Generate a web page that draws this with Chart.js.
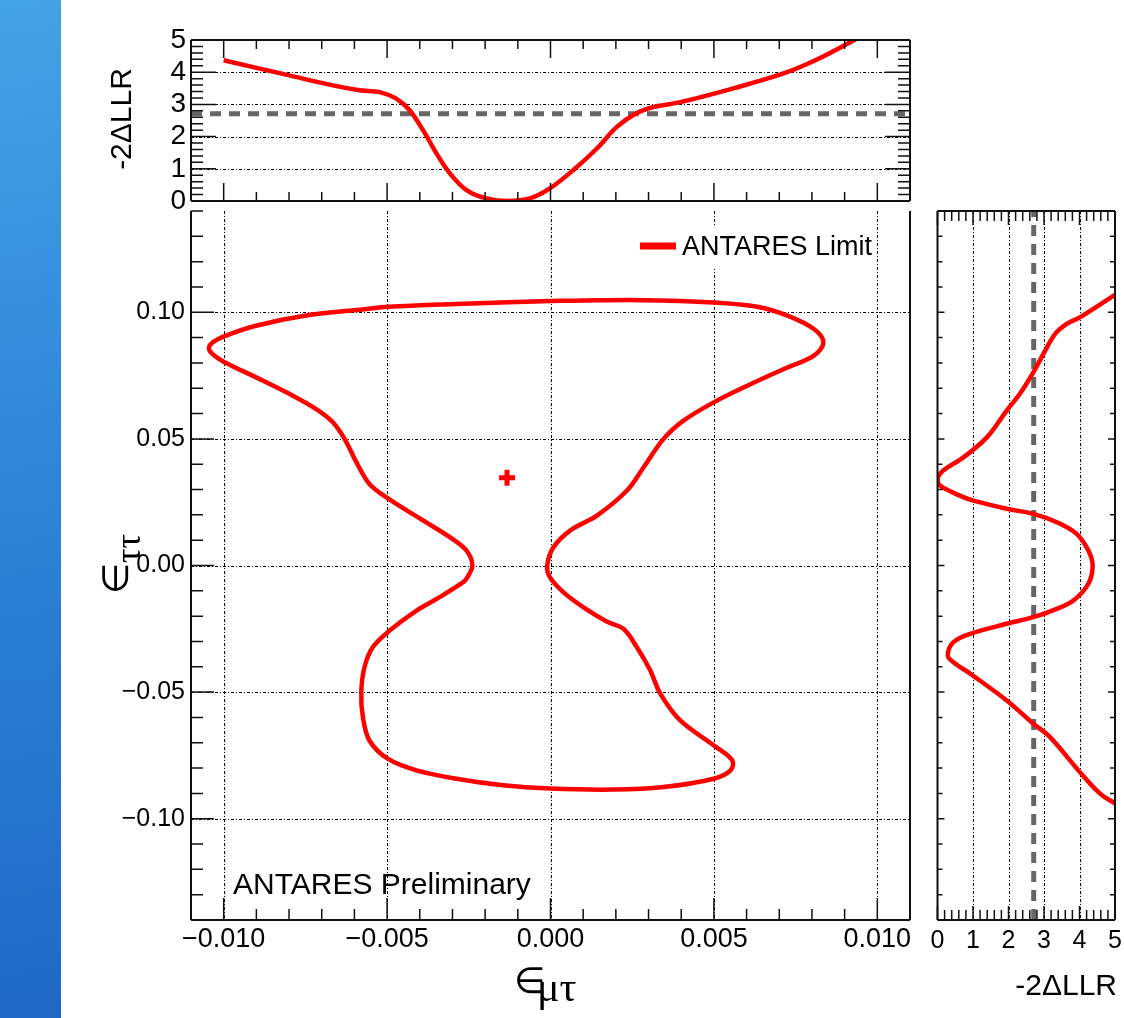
<!DOCTYPE html>
<html>
<head>
<meta charset="utf-8">
<script src="https://cdn.jsdelivr.net/npm/chart.js@4.4.1/dist/chart.umd.min.js"></script>
<style>
  body { margin: 0; background: #fff; }
  #wrap { position: relative; width: 1124px; height: 1018px; overflow: hidden; background: #fff; }
  #strip { position: absolute; left: 0; top: 0; width: 61px; height: 1018px;
    background: linear-gradient(170deg, #45a3e8 0%, #2f86d8 45%, #1f69c5 100%); }
  canvas { position: absolute; left: 0; top: 0; }
</style>
</head>
<body>
<div id="wrap">
  <div id="strip"></div>
  <canvas id="topChart" width="1124" height="1018"></canvas>
  <canvas id="mainChart" width="1124" height="1018"></canvas>
  <canvas id="sideChart" width="1150" height="1018"></canvas>
</div>
<script>
// axis ranges and labelled ticks
const xLimits = [-0.011, 0.011];
const yLimits = [-0.14, 0.14];
const llrLimits = [0, 5];
const xTickLabels = [-0.010, -0.005, 0.000, 0.005, 0.010];
const yTickLabels = [-0.10, -0.05, 0.00, 0.05, 0.10];
const llrTickLabels = [0, 1, 2, 3, 4, 5];
const llrThreshold = 2.71;
const bestFit = [-0.00133, 0.0347];

// profile along eps_mutau (top panel)
const muTauScan = [-0.0100, -0.00799, -0.00666, -0.00584, -0.00523, -0.00472, -0.00431, -0.00390,
  -0.00349, -0.00308, -0.00257, -0.00196, -0.00129, -0.00063, -0.00002, 0.00070, 0.00142,
  0.00203, 0.00264, 0.00315, 0.00397, 0.00560, 0.00713, 0.00817, 0.00934];
const muTauLLR = [4.37, 3.90, 3.59, 3.44, 3.38, 3.18, 2.82, 2.20, 1.48, 0.86, 0.34, 0.08, 0.00,
  0.08, 0.39, 0.96, 1.63, 2.30, 2.73, 2.92, 3.07, 3.50, 3.96, 4.40, 5.02];

// profile along eps_tautau (right panel)
const tauTauScan = [0.1069, 0.0980, 0.0954, 0.0914, 0.0835, 0.0763, 0.0678, 0.0612, 0.0506, 0.0427,
  0.0375, 0.0342, 0.0316, 0.0276, 0.0256, 0.0224, 0.0204, 0.0171, 0.0125, 0.0059, 0.0000,
  -0.0072, -0.0138, -0.0171, -0.0204, -0.0230, -0.0270, -0.0303, -0.0355, -0.0382, -0.0427,
  -0.0533, -0.0625, -0.0678, -0.0816, -0.0901, -0.0940];
const tauTauLLR = [5.0, 4.01, 3.64, 3.31, 2.98, 2.70, 2.32, 1.95, 1.39, 0.73, 0.16, 0.0, 0.07, 0.63,
  1.01, 1.95, 2.70, 3.36, 3.92, 4.25, 4.37, 4.25, 3.83, 3.36, 2.70, 1.95, 0.92, 0.45, 0.29, 0.45,
  0.92, 1.95, 2.70, 3.17, 4.01, 4.58, 5.0];

// 90% CL contour
const contourX = [0.00029, -0.00288, -0.00495, -0.00594, -0.00748, -0.00901, -0.00993, -0.01034,
  -0.01045, -0.01029, -0.00996, -0.00901, -0.00799, -0.00717, -0.00666, -0.00630, -0.00594,
  -0.00554, -0.00495, -0.00390, -0.00308, -0.00257, -0.00239, -0.00257, -0.00267, -0.00339,
  -0.00410, -0.00494, -0.00544, -0.00569, -0.00579, -0.00574, -0.00554, -0.00498, -0.00410,
  -0.00288, -0.00145, -0.00002, 0.00193, 0.00346, 0.00499, 0.00551, 0.00556, 0.00499, 0.00397,
  0.00336, 0.00305, 0.00264, 0.00223, 0.00172, 0.00101, 0.00039, -0.00002, -0.00010, 0.00009,
  0.00060, 0.00142, 0.00234, 0.00285, 0.00346, 0.00407, 0.00499, 0.00602, 0.00714, 0.00806,
  0.00835, 0.00806, 0.00725, 0.00633, 0.00499, 0.00275, 0.00070];
const contourY = [0.1046, 0.1033, 0.1022, 0.1009, 0.0987, 0.0947, 0.0908, 0.0881, 0.0855, 0.0829,
  0.0802, 0.0743, 0.0678, 0.0618, 0.0566, 0.0500, 0.0408, 0.0322, 0.0263, 0.0178, 0.0112, 0.0059,
  0.0, -0.0052, -0.0066, -0.0125, -0.0178, -0.0259, -0.0323, -0.0401, -0.0500, -0.0599, -0.0691,
  -0.0763, -0.0809, -0.0842, -0.0868, -0.0881, -0.0885, -0.0875, -0.0842, -0.0809, -0.0769,
  -0.0710, -0.0612, -0.0506, -0.0414, -0.0322, -0.0250, -0.0221, -0.0165, -0.0105, -0.0046, 0.0,
  0.0072, 0.0138, 0.0197, 0.0296, 0.0388, 0.0500, 0.0572, 0.0644, 0.0710, 0.0776, 0.0829, 0.0881,
  0.0934, 0.0987, 0.1022, 0.1039, 0.1048, 0.1046];

const RED = '#ff0000';
const GREY = '#666666';
const FONT = '"Liberation Sans", Arial, sans-serif';
Chart.defaults.font.family = FONT;
Chart.defaults.color = '#000';

function steps(a, b, s) {
  const out = [];
  const n = Math.round((b - a) / s);
  for (let i = 0; i <= n; i++) out.push(a + i * s);
  return out;
}

function zip(xs, ys) {
  return xs.map((x, i) => ({ x, y: ys[i] }));
}

function fmtSigned(v, digits) {
  const s = Math.abs(v).toFixed(digits);
  return v < -1e-9 ? '\u2212' + s : s;
}

// ROOT-like frame: dotted grid under the data, frame edges and inward ticks over it
function rootFrame(spec) {
  return {
    id: 'rootFrame',
    beforeDatasetsDraw(chart) {
      const { ctx, chartArea: a, scales } = chart;
      ctx.save();
      ctx.strokeStyle = '#000';
      ctx.lineWidth = 1;
      ctx.setLineDash([3, 2, 1, 2]);
      ctx.beginPath();
      (spec.xGrid || []).forEach((v) => {
        const p = Math.round(scales.x.getPixelForValue(v)) + 0.5;
        ctx.moveTo(p, a.top);
        ctx.lineTo(p, a.bottom);
      });
      (spec.yGrid || []).forEach((v) => {
        const p = Math.round(scales.y.getPixelForValue(v)) + 0.5;
        ctx.moveTo(a.left, p);
        ctx.lineTo(a.right, p);
      });
      ctx.stroke();
      ctx.restore();
    },
    afterDatasetsDraw(chart) {
      const { ctx, chartArea: a, scales } = chart;
      ctx.save();
      ctx.strokeStyle = '#111';
      ctx.lineWidth = 1.5;
      ctx.beginPath();
      spec.ticks.forEach((t) => {
        const scale = t.side === 'top' || t.side === 'bottom' ? scales.x : scales.y;
        t.values.forEach((v) => {
          const p = scale.getPixelForValue(v);
          if (t.side === 'bottom') { ctx.moveTo(p, a.bottom); ctx.lineTo(p, a.bottom - t.len); }
          if (t.side === 'top') { ctx.moveTo(p, a.top); ctx.lineTo(p, a.top + t.len); }
          if (t.side === 'left') { ctx.moveTo(a.left, p); ctx.lineTo(a.left + t.len, p); }
          if (t.side === 'right') { ctx.moveTo(a.right, p); ctx.lineTo(a.right - t.len, p); }
        });
      });
      ctx.stroke();
      ctx.lineWidth = 2;
      ctx.beginPath();
      spec.edges.forEach((e) => {
        if (e === 'left') { ctx.moveTo(a.left, a.top); ctx.lineTo(a.left, a.bottom); }
        if (e === 'right') { ctx.moveTo(a.right, a.top); ctx.lineTo(a.right, a.bottom); }
        if (e === 'top') { ctx.moveTo(a.left, a.top); ctx.lineTo(a.right, a.top); }
        if (e === 'bottom') { ctx.moveTo(a.left, a.bottom); ctx.lineTo(a.right, a.bottom); }
      });
      ctx.stroke();
      ctx.restore();
    }
  };
}

// legend box, label and axis titles, drawn on the main canvas
const annotations = {
  id: 'annotations',
  afterDatasetsDraw(chart) {
    const { ctx } = chart;
    ctx.save();
    ctx.fillStyle = '#fff';
    ctx.fillRect(632, 227, 240, 42);
    ctx.strokeStyle = chart.data.datasets[0].borderColor;
    ctx.lineWidth = 7;
    ctx.beginPath();
    ctx.moveTo(640, 246);
    ctx.lineTo(676, 246);
    ctx.stroke();
    ctx.fillStyle = '#000';
    ctx.textBaseline = 'alphabetic';
    ctx.font = '27px ' + FONT;
    ctx.fillText('ANTARES Limit', 682, 255);
    ctx.font = '30px ' + FONT;
    ctx.fillText('ANTARES Preliminary', 233, 894);
    ctx.restore();
  },
  afterDraw(chart) {
    const { ctx } = chart;
    ctx.save();
    ctx.fillStyle = '#000';
    ctx.font = '30px ' + FONT;
    ctx.save();
    ctx.translate(131, 119);
    ctx.rotate(-Math.PI / 2);
    ctx.textAlign = 'center';
    ctx.fillText('-2\u0394LLR', 0, 0);
    ctx.restore();
    ctx.textAlign = 'right';
    ctx.fillText('-2\u0394LLR', 1117, 995);
    ctx.textAlign = 'left';
    ctx.font = '36px "DejaVu Sans", sans-serif';
    ctx.fillText('\u2208', 514, 993);
    ctx.font = '42px "Liberation Serif", serif';
    ctx.fillText('\u03bc\u03c4', 537, 1001);
    ctx.save();
    ctx.translate(128, 594);
    ctx.rotate(-Math.PI / 2);
    ctx.font = '36px "DejaVu Sans", sans-serif';
    ctx.fillText('\u2208', 0, 0);
    ctx.font = '36px "Liberation Serif", serif';
    ctx.fillText('\u03c4\u03c4', 31, 12);
    ctx.restore();
    ctx.restore();
  }
};

function fixedTicks(list) {
  return (scale) => { scale.ticks = list.map((v) => ({ value: v })); };
}

const xMinor = steps(xLimits[0], xLimits[1], 0.001);
const yMinor = steps(yLimits[0], yLimits[1], 0.01);
const llrMinor = steps(llrLimits[0], llrLimits[1], 0.2);

// top panel: profile in eps_mutau
new Chart(document.getElementById('topChart'), {
  type: 'scatter',
  data: {
    datasets: [
      { data: zip(muTauScan, muTauLLR), showLine: true, borderColor: RED, borderWidth: 4.5,
        pointRadius: 0, tension: 0.35 },
      { data: zip(xLimits, [llrThreshold, llrThreshold]), showLine: true, borderColor: GREY,
        borderWidth: 5, borderDash: [11, 8], pointRadius: 0 }
    ]
  },
  options: {
    responsive: false,
    animation: false,
    events: [],
    layout: { padding: { left: 100, right: 214, top: 40, bottom: 817 } },
    plugins: { legend: { display: false }, tooltip: { enabled: false } },
    scales: {
      x: { type: 'linear', min: xLimits[0], max: xLimits[1], display: false },
      y: {
        type: 'linear', min: llrLimits[0], max: llrLimits[1],
        afterBuildTicks: fixedTicks(llrTickLabels),
        afterFit: (s) => { s.width = 91; },
        grid: { display: false, drawTicks: false },
        border: { display: false },
        ticks: { font: { size: 28 }, padding: 5, autoSkip: false, callback: (v) => String(v) }
      }
    }
  },
  plugins: [rootFrame({
    yGrid: [1, 2, 3, 4],
    edges: ['left', 'right', 'top', 'bottom'],
    ticks: [
      { side: 'bottom', values: xMinor, len: 9 }, { side: 'bottom', values: xTickLabels, len: 18 },
      { side: 'top', values: xMinor, len: 9 }, { side: 'top', values: xTickLabels, len: 18 },
      { side: 'left', values: llrMinor, len: 12 }, { side: 'left', values: llrTickLabels, len: 25 },
      { side: 'right', values: llrMinor, len: 12 }, { side: 'right', values: llrTickLabels, len: 25 }
    ]
  })]
});

// main panel: allowed region
new Chart(document.getElementById('mainChart'), {
  type: 'scatter',
  data: {
    datasets: [
      { label: 'ANTARES Limit', data: zip([...contourX, contourX[0]], [...contourY, contourY[0]]),
        showLine: true, borderColor: RED, borderWidth: 4.5, pointRadius: 0, tension: 0.35 },
      { data: [{ x: bestFit[0], y: bestFit[1] }], pointStyle: 'cross', pointRadius: 8,
        borderColor: RED, borderWidth: 5 }
    ]
  },
  options: {
    responsive: false,
    animation: false,
    events: [],
    layout: { padding: { left: 100, right: 214, top: 211, bottom: 60 } },
    plugins: { legend: { display: false }, tooltip: { enabled: false } },
    scales: {
      x: {
        type: 'linear', min: xLimits[0], max: xLimits[1],
        afterBuildTicks: fixedTicks(xTickLabels),
        afterFit: (s) => { s.height = 38; },
        grid: { display: false, drawTicks: false },
        border: { display: false },
        ticks: { font: { size: 27 }, padding: 3, autoSkip: false, maxRotation: 0,
          callback: (v) => fmtSigned(v, 3) }
      },
      y: {
        type: 'linear', min: yLimits[0], max: yLimits[1],
        afterBuildTicks: fixedTicks(yTickLabels),
        afterFit: (s) => { s.width = 91; },
        grid: { display: false, drawTicks: false },
        border: { display: false },
        ticks: { font: { size: 25 }, padding: 6, autoSkip: false, callback: (v) => fmtSigned(v, 2) }
      }
    }
  },
  plugins: [rootFrame({
    xGrid: xTickLabels,
    yGrid: yTickLabels,
    edges: ['left', 'right', 'bottom'],
    ticks: [
      { side: 'bottom', values: xMinor, len: 11 }, { side: 'bottom', values: xTickLabels, len: 22 },
      { side: 'left', values: yMinor, len: 12 }, { side: 'left', values: yTickLabels, len: 23 }
    ]
  }), annotations]
});

// right panel: profile in eps_tautau
new Chart(document.getElementById('sideChart'), {
  type: 'scatter',
  data: {
    datasets: [
      { data: zip(tauTauLLR, tauTauScan), showLine: true, borderColor: RED, borderWidth: 4.5,
        pointRadius: 0, tension: 0.35 },
      { data: zip([llrThreshold, llrThreshold], yLimits), showLine: true, borderColor: GREY,
        borderWidth: 5, borderDash: [11, 8], pointRadius: 0 }
    ]
  },
  options: {
    responsive: false,
    animation: false,
    events: [],
    layout: { padding: { left: 937.5, right: 35, top: 211, bottom: 60 } },
    plugins: { legend: { display: false }, tooltip: { enabled: false } },
    scales: {
      x: {
        type: 'linear', min: llrLimits[0], max: llrLimits[1],
        afterBuildTicks: fixedTicks(llrTickLabels),
        afterFit: (s) => { s.height = 38; },
        grid: { display: false, drawTicks: false },
        border: { display: false },
        ticks: { font: { size: 25 }, padding: 6, autoSkip: false, maxRotation: 0,
          callback: (v) => String(v) }
      },
      y: { type: 'linear', min: yLimits[0], max: yLimits[1], display: false }
    }
  },
  plugins: [rootFrame({
    xGrid: [1, 2, 3, 4],
    edges: ['left', 'right', 'top', 'bottom'],
    ticks: [
      { side: 'bottom', values: llrMinor, len: 10 }, { side: 'bottom', values: llrTickLabels, len: 14 },
      { side: 'top', values: llrMinor, len: 10 }, { side: 'top', values: llrTickLabels, len: 14 },
      { side: 'left', values: yMinor, len: 5 }, { side: 'left', values: yTickLabels, len: 7 },
      { side: 'right', values: yMinor, len: 5 }, { side: 'right', values: yTickLabels, len: 7 }
    ]
  })]
});
</script>
</body>
</html>
